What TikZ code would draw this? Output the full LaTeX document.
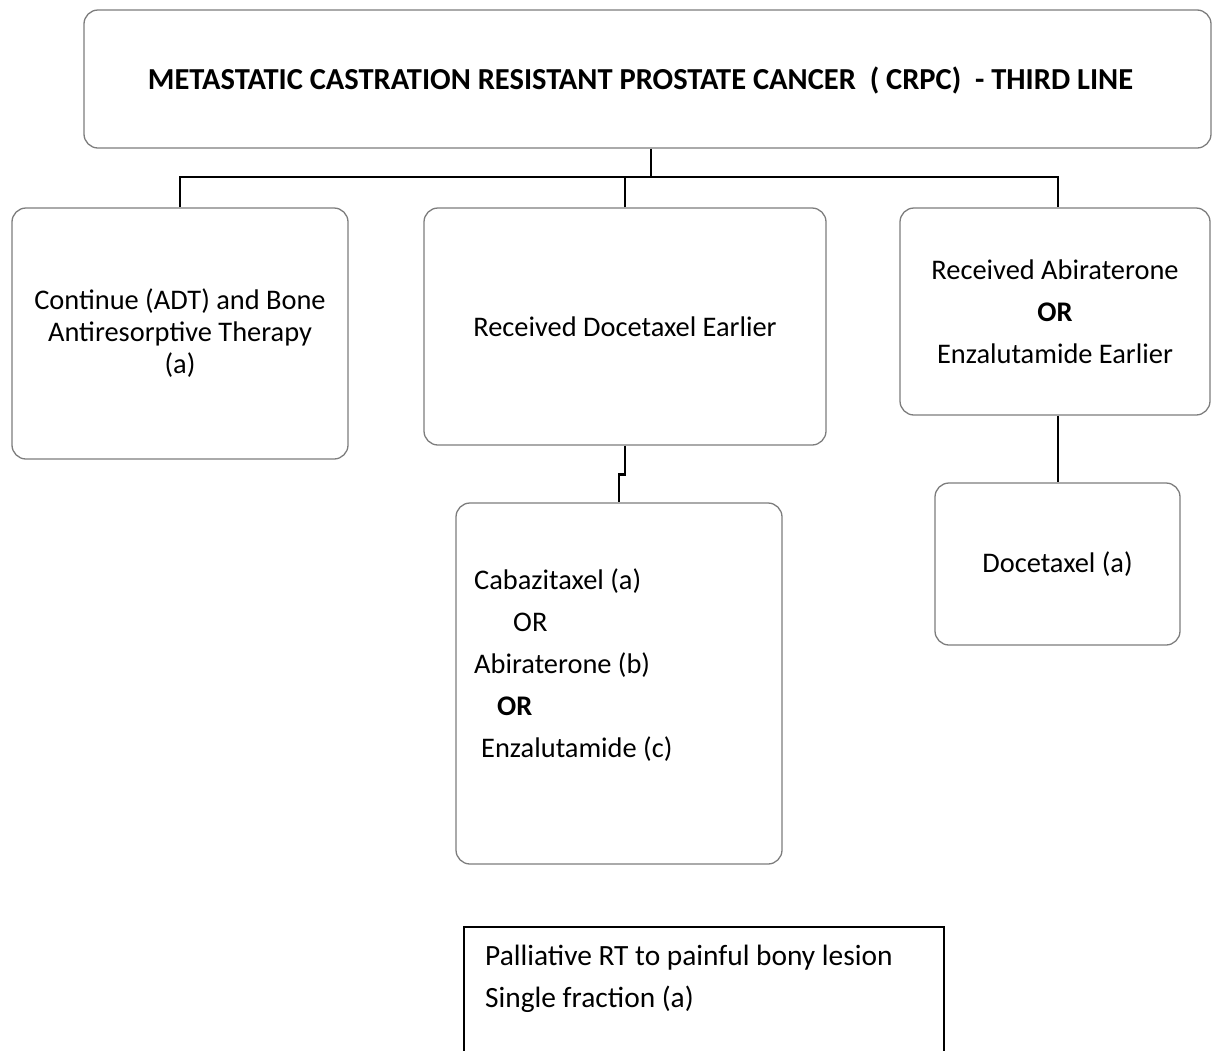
\documentclass[tikz,border=0pt]{standalone}
\usepackage{fontspec}
\setmainfont{Carlito}
\definecolor{boxgray}{RGB}{125,125,125}
\begin{document}
\begin{tikzpicture}[x=1pt,y=-1pt,
  rbox/.style={draw=boxgray, line width=1.3pt, rounded corners=14pt, inner sep=0pt,
    align=center, font=\fontsize{28.4}{42}\selectfont},
  sqbox/.style={draw=black, line width=2pt, inner sep=0pt},
  link/.style={draw=black, line width=2.6pt},
  plain/.style={inner sep=0pt, align=left, font=\fontsize{28.4}{42}\selectfont}]
\clip (0,0) rectangle (1212,1050);

% title box
\node[rbox, minimum width=1127pt, minimum height=138pt] (top) at (647.5,79) {};
\node[inner sep=0pt, font=\fontsize{30.5}{36}\selectfont\bfseries] (title) at (640.5,80)
  {METASTATIC CASTRATION RESISTANT PROSTATE CANCER\ \ ( CRPC)\ \ - THIRD LINE};

% second row
\node[rbox, minimum width=336pt, minimum height=251pt,
  font=\fontsize{28.4}{32}\selectfont] (left) at (180,333.5)
  {Continue (ADT) and Bone\\Antiresorptive Therapy\\(a)};
\node[rbox, minimum width=402pt, minimum height=237pt] (mid) at (625,326.5)
  {Received Docetaxel Earlier};
\node[rbox, minimum width=310pt, minimum height=207pt] (right) at (1055,311.5)
  {Received Abiraterone\\\textbf{OR}\\Enzalutamide Earlier};

% third row
\node[rbox, minimum width=326pt, minimum height=361pt] (cab) at (619,683.5) {};
\node[plain, anchor=north west] (cabtxt) at (474,569)
  {Cabazitaxel (a)\\
   \hspace*{39pt}OR\\
   Abiraterone (b)\\
   \hspace*{23pt}\textbf{OR}\\
   \hspace*{7pt}Enzalutamide (c)};
\node[rbox, minimum width=245pt, minimum height=162pt] (doc) at (1057.5,564)
  {Docetaxel (a)};

% radiotherapy box
\node[sqbox, anchor=north west, minimum width=480pt, minimum height=170pt] (rt) at (463,926) {};
\node[plain, anchor=north west, font=\fontsize{29.4}{42}\selectfont] (rttxt) at (485,945)
  {Palliative RT to painful bony lesion\\Single fraction (a)};

% connectors
\coordinate (bus) at (651,177);
\draw[link] (top.south -| bus) -- (bus);
\draw[link] (left.north) |- (bus) -| ([xshift=3pt]right.north);
\draw[link] (mid.north) -- (mid.north |- bus);
\draw[link] (mid.south) -- ++(0,29) -| (cab.north);
\draw[link] ([xshift=3pt]right.south) -- ([xshift=0.5pt]doc.north);
\end{tikzpicture}
\end{document}
